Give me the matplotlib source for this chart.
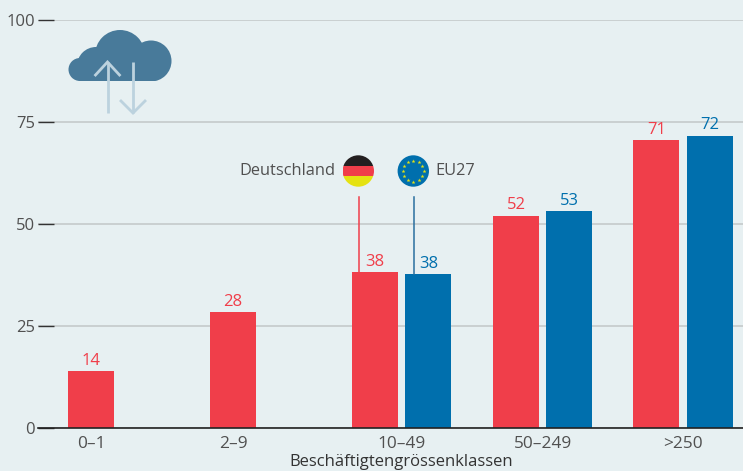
import numpy as np
import matplotlib
matplotlib.use("Agg")
import matplotlib.pyplot as plt
from matplotlib.patches import Circle, Rectangle

categories = ["0–1", "2–9", "10–49", "50–249", ">250"]
de_values = [14, 28.4, 38.2, 52, 70.6]
eu_categories = ["10–49", "50–249", ">250"]
eu_values = [37.7, 53, 71.6]
de_labels = ["14", "28", "38", "52", "71"]
eu_labels = ["38", "53", "72"]
y_ticks = [0, 25, 50, 75, 100]
x_title = "Beschäftigtengrössenklassen"
legend_names = ["Deutschland", "EU27"]

BG = "#e7f0f2"; RED = "#f03e4a"; BLUE = "#006fad"; TXT = "#505050"
plt.rcParams["font.family"] = ["Open Sans", "DejaVu Sans"]

W, H = 743, 471
fig = plt.figure(figsize=(W/100, H/100), dpi=100, facecolor=BG)
ax = fig.add_axes([38/W, 1-428/H, (W-38)/W, (428-19.5)/H], facecolor=BG)

# horizontal layout measured in pixels: the x scale runs in figure pixels
group_x = np.array([91, 233, 375, 516, 656.4])
bw = 46
off = 53.4
ax.set_xlim(38, W)
ax.set_ylim(0, 100)

ax.bar(group_x, de_values, width=bw, color=RED, zorder=3)
eu_x = [group_x[categories.index(c)] + off for c in eu_categories]
ax.bar(eu_x, eu_values, width=bw, color=BLUE, zorder=3)

for xi, v, l in zip(group_x, de_values, de_labels):
    ax.annotate(l, (xi, v), xytext=(0, 1.5), textcoords="offset points", ha="center", va="bottom",
                color=RED, fontsize=12)
for xi, v, l in zip(eu_x, eu_values, eu_labels):
    ax.annotate(l, (xi, v), xytext=(0, 1.5), textcoords="offset points", ha="center", va="bottom",
                color=BLUE, fontsize=12)

for s in ["top", "right", "left"]:
    ax.spines[s].set_visible(False)
ax.spines["bottom"].set_color("#222222")
ax.spines["bottom"].set_linewidth(1.2)
ax.spines["bottom"].set_zorder(4)
ax.set_yticks(y_ticks)
ax.tick_params(axis="y", direction="in", length=11.5, width=1, color="#333333",
               labelsize=12, labelcolor=TXT, pad=2)
ax.yaxis.grid(True, color="#c2c7c8", lw=1.1, zorder=1)
ax.set_axisbelow(True)
# single bars are labelled under the bar, paired bars under the middle of the pair
has_eu = [c in eu_categories for c in categories]
ax.set_xticks([xi + (off/2 if e else 0) for xi, e in zip(group_x, has_eu)])
ax.set_xticklabels(categories)
ax.tick_params(axis="x", length=0, labelsize=12.4, labelcolor=TXT, pad=5.5)

fig.text(401/W, 1-462/H, x_title, ha="center", va="center", color="#333333", fontsize=12)

# overlay in pixel coordinates for icons and legend
ov = fig.add_axes([0, 0, 1, 1], facecolor="none")
ov.set_xlim(0, W); ov.set_ylim(H, 0); ov.axis("off")

# cloud
CL = "#487a9a"
cloud_clip = Rectangle((60, 20), 120, 60.7, transform=ov.transData, fc="none", ec="none")
ov.add_patch(cloud_clip)
for cx, cy, r in [(80, 69.5, 11.5), (96, 66, 19), (120, 55, 25), (151, 61, 20.5)]:
    c = Circle((cx, cy), r, fc=CL, ec="none", zorder=5)
    ov.add_patch(c); c.set_clip_path(cloud_clip)
ov.add_patch(Rectangle((80, 62), 72, 18.7, fc=CL, ec="none", zorder=5))
AR = "#bcd2de"
ov.plot([107.5, 107.5], [113, 62], color=AR, lw=2, zorder=6, solid_capstyle="butt")
ov.plot([95.5, 107.5, 119.5], [75, 62, 75], color=AR, lw=2, zorder=6, solid_joinstyle="miter")
ov.plot([133, 133], [62, 113], color=AR, lw=2, zorder=6, solid_capstyle="butt")
ov.plot([121, 133, 145], [101, 113, 101], color=AR, lw=2, zorder=6, solid_joinstyle="miter")

# German flag
fc, fy, fr = 358.3, 171, 15.7
clip = Circle((fc, fy), fr, transform=ov.transData, fc="none", ec="none")
ov.add_patch(clip)
for top, col in [(fy-fr, "#231f20"), (fy-fr/3, RED), (fy+fr/3, "#e5e212")]:
    p = Rectangle((fc-fr, top), 2*fr, 2*fr/3, fc=col, ec="none", zorder=5)
    ov.add_patch(p); p.set_clip_path(clip)

# EU flag
ec = 413.3
ov.add_patch(Circle((ec, fy), fr, fc=BLUE, ec="none", zorder=5))
ang = np.deg2rad(np.arange(0, 360, 30))
ov.scatter(ec + 10.5*np.cos(ang), fy + 10.5*np.sin(ang), marker="*", s=9, c="#e5e212", lw=0, zorder=6)

ov.text(335.5, 171, legend_names[0], ha="right", va="center", color=TXT, fontsize=11.8)
ov.text(435.5, 171, legend_names[1], ha="left", va="center", color=TXT, fontsize=11.8)
ov.plot([358.5, 358.5], [196.7, 272], color=RED, lw=1.1, zorder=6)
ov.plot([413.5, 413.5], [196.7, 274], color="#2a6f9f", lw=1.1, zorder=6)

fig.savefig("out.png", dpi=100, facecolor=BG)
